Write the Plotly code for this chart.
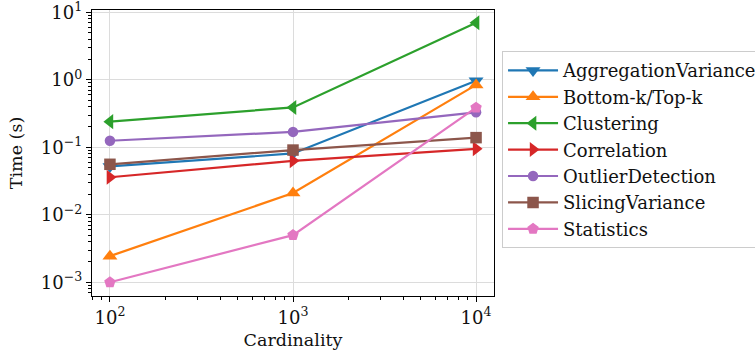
import plotly.graph_objects as go

cardinality = [100, 1000, 10000]
series_names = ["AggregationVariance", "Bottom-k/Top-k", "Clustering", "Correlation",
                "OutlierDetection", "SlicingVariance", "Statistics"]
aggregation_variance = [0.052, 0.081, 0.97]
bottom_top_k = [0.00244, 0.021, 0.84]
clustering = [0.24, 0.39, 7.0]
correlation = [0.036, 0.063, 0.095]
outlier_detection = [0.125, 0.169, 0.33]
slicing_variance = [0.056, 0.091, 0.139]
statistics = [0.001, 0.005, 0.386]

x_tick_vals = [100, 1000, 10000]
x_tick_text = ["10<sup>2</sup>", "10<sup>3</sup>", "10<sup>4</sup>"]
y_tick_vals = [0.001, 0.01, 0.1, 1, 10]
y_tick_text = ["10<sup>\u22123</sup>", "10<sup>\u22122</sup>", "10<sup>\u22121</sup>",
               "10<sup>0</sup>", "10<sup>1</sup>"]

all_values = [aggregation_variance, bottom_top_k, clustering, correlation,
              outlier_detection, slicing_variance, statistics]
colors = ["#1f77b4", "#ff7f0e", "#2ca02c", "#d62728", "#9467bd", "#8c564b", "#e377c2"]
symbols = ["triangle-down", "triangle-up", "triangle-left", "triangle-right",
           "circle", "square", "pentagon"]
marker_sizes = [13, 13, 13, 13, 10.5, 11.5, 12]

FONT = "DejaVu Serif"

fig = go.Figure()
for name, vals, c, s, ms in zip(series_names, all_values, colors, symbols, marker_sizes):
    fig.add_trace(go.Scatter(
        x=cardinality, y=vals, name=name, mode="lines+markers",
        line=dict(color=c, width=2.2),
        marker=dict(symbol=s, size=ms, color=c, line=dict(width=0)),
    ))

minor_x = [80, 90] + [m * 100 for m in range(2, 10)] + [m * 1000 for m in range(2, 10)]
minor_y = []
for d in [0.0001, 0.001, 0.01, 0.1, 1]:
    minor_y += [m * d for m in range(2, 10)]

axis_common = dict(
    type="log", showline=True, linecolor="black", linewidth=1.3, mirror=True,
    ticks="outside", ticklen=5, tickwidth=1.1, tickcolor="black",
    showgrid=True, gridcolor="#dcdcdc", gridwidth=1, zeroline=False,
    automargin=False, ticklabeloverflow="allow",
    tickfont=dict(family=FONT, size=18, color="#111111"),
    title_font=dict(family=FONT, size=17.5, color="#111111"),
)

fig.update_xaxes(
    **axis_common, range=[1.902, 4.098], tickmode="array",
    tickvals=x_tick_vals, ticktext=x_tick_text,
    minor=dict(tickmode="array", tickvals=minor_x, ticks="outside", ticklen=3,
               tickwidth=0.8, tickcolor="black", showgrid=False),
    title=dict(text="Cardinality", standoff=6),
)
fig.update_yaxes(
    **axis_common, range=[-3.203, 1.034], tickmode="array",
    tickvals=y_tick_vals, ticktext=y_tick_text,
    minor=dict(tickmode="array", tickvals=minor_y, ticks="outside", ticklen=3,
               tickwidth=0.8, tickcolor="black", showgrid=False),
    title=dict(text="Time (s)", standoff=13),
)

fig.update_layout(
    width=755, height=353,
    margin=dict(l=92, r=261, t=10, b=57, autoexpand=False),
    plot_bgcolor="white", paper_bgcolor="white",
    font=dict(family=FONT, size=18, color="#111111"),
    legend=dict(
        x=1.02, y=0.856, xanchor="left", yanchor="top",
        bordercolor="#cccccc", borderwidth=1, bgcolor="white",
        itemwidth=50,
        font=dict(family=FONT, size=18, color="#111111"),
    ),
)

# remove the browser's default 8px page margin so the figure fills the window
fig.write_html("out.html", config={"displayModeBar": False},
               post_script="document.body.style.margin='0';")
